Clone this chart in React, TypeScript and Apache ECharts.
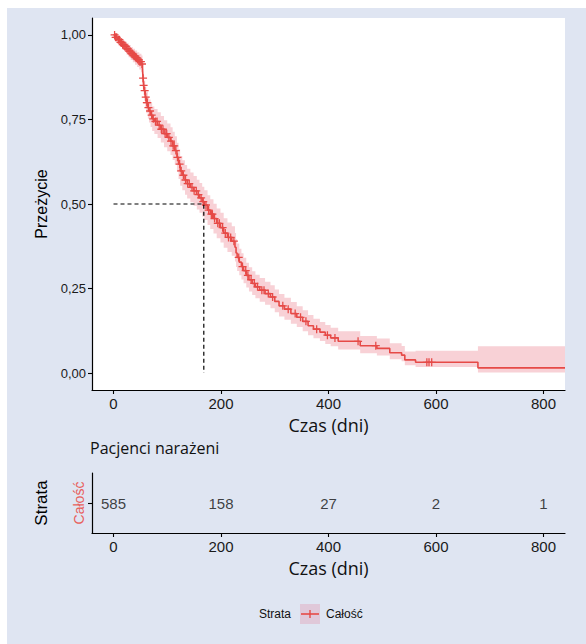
import React, { useEffect, useRef } from "react";
import * as echarts from "echarts";

// Kaplan–Meier estimate: step times (days) and survival after each step
const timeDays = [
  0, 4, 8, 12, 16, 20, 24, 28, 32, 36, 40, 44, 48, 52, 54, 55, 56, 57, 59, 61,
  64, 66, 69, 72, 76, 82, 88, 94, 100, 106, 110, 114, 118, 121, 124, 128, 133,
  137, 143, 149, 155, 160, 165, 169, 175, 180, 186, 192, 199, 205, 212, 220,
  226, 228, 230, 234, 238, 242, 247, 252, 258, 264, 272, 282, 292, 300, 308,
  318, 330, 341, 352, 362, 372, 384, 394, 404, 418, 459, 490, 514, 536, 542,
  562, 678, 840,
];
const survival = [
  1.0, 0.993, 0.986, 0.978, 0.971, 0.966, 0.959, 0.952, 0.945, 0.939, 0.933,
  0.927, 0.921, 0.914, 0.895, 0.872, 0.851, 0.835, 0.816, 0.8, 0.785, 0.775,
  0.763, 0.752, 0.744, 0.733, 0.721, 0.708, 0.697, 0.686, 0.672, 0.658, 0.638,
  0.618, 0.598, 0.585, 0.571, 0.56, 0.549, 0.539, 0.528, 0.518, 0.507, 0.497,
  0.482, 0.47, 0.457, 0.443, 0.43, 0.414, 0.401, 0.39, 0.372, 0.355, 0.342,
  0.328, 0.315, 0.303, 0.289, 0.276, 0.265, 0.255, 0.245, 0.235, 0.225, 0.212,
  0.199, 0.189, 0.176, 0.165, 0.153, 0.14, 0.13, 0.121, 0.112, 0.104, 0.094,
  0.081, 0.073, 0.06, 0.053, 0.039, 0.032, 0.0155, 0.0155,
];
// 95% confidence limits for each step
const lowerCI = [
  1.0, 0.986, 0.976, 0.966, 0.957, 0.951, 0.942, 0.934, 0.926, 0.919, 0.912,
  0.905, 0.898, 0.89, 0.869, 0.845, 0.822, 0.805, 0.785, 0.768, 0.752, 0.741,
  0.728, 0.716, 0.707, 0.695, 0.682, 0.668, 0.656, 0.645, 0.63, 0.616, 0.595,
  0.574, 0.554, 0.541, 0.527, 0.516, 0.505, 0.495, 0.484, 0.474, 0.463, 0.453,
  0.438, 0.426, 0.413, 0.399, 0.386, 0.371, 0.358, 0.347, 0.33, 0.314, 0.302,
  0.289, 0.277, 0.266, 0.253, 0.241, 0.231, 0.221, 0.211, 0.202, 0.192, 0.18,
  0.167, 0.158, 0.146, 0.136, 0.124, 0.112, 0.103, 0.095, 0.086, 0.079, 0.07,
  0.059, 0.052, 0.041, 0.035, 0.023, 0.018, 0.002, 0.002,
];
const upperCI = [
  1.0, 1.0, 0.996, 0.99, 0.985, 0.981, 0.976, 0.97, 0.964, 0.959, 0.954, 0.949,
  0.944, 0.939, 0.921, 0.9, 0.88, 0.865, 0.847, 0.832, 0.818, 0.809, 0.798,
  0.788, 0.781, 0.771, 0.76, 0.748, 0.738, 0.727, 0.714, 0.7, 0.681, 0.662,
  0.642, 0.629, 0.615, 0.604, 0.593, 0.583, 0.572, 0.562, 0.551, 0.541, 0.526,
  0.514, 0.501, 0.487, 0.474, 0.458, 0.445, 0.434, 0.414, 0.396, 0.383, 0.368,
  0.354, 0.341, 0.326, 0.313, 0.301, 0.291, 0.281, 0.27, 0.26, 0.247, 0.234,
  0.223, 0.21, 0.198, 0.186, 0.172, 0.161, 0.151, 0.142, 0.134, 0.124, 0.11,
  0.102, 0.088, 0.08, 0.064, 0.066, 0.079, 0.079,
];
// Censored observations (days)
const censorDays = [
  2, 4, 6, 9, 11, 13, 15, 17, 19, 21, 23, 25, 27, 29, 31, 33, 35, 37, 39, 41,
  43, 45, 47, 49, 51, 53, 55, 56, 58, 60, 62, 63, 65, 68, 71, 74, 78, 81, 85,
  89, 92, 96, 99, 103, 107, 111, 113, 116, 119, 123, 126, 130, 134, 138, 141,
  146, 150, 154, 158, 163, 167, 172, 177, 182, 184, 188, 194, 197, 203, 208,
  214, 218, 224, 233, 240, 246, 250, 256, 262, 268, 276, 280, 288, 296, 315,
  325, 338, 348, 358, 378, 398, 412, 455, 488, 583, 587, 592,
];
const medianDays = 168;

// Numbers at risk
const strata = ["Całość"];
const riskTimes = [0, 200, 400, 600, 800];
const riskCounts = [585, 158, 27, 2, 1];

const xTicks = [0, 200, 400, 600, 800];
const yTicks = [0, 0.25, 0.5, 0.75, 1];

const RED = "#e64a47";
const BAND = "#f8d1d6";
const SANS = "'Liberation Sans', Arial, sans-serif";
const HUMAN = "'Open Sans', 'Noto Sans', sans-serif";

const PLUS =
  "path://M-0.16,-1H0.16V-0.16H1V0.16H0.16V1H-0.16V0.16H-1V-0.16H-0.16Z";

function survAt(t: number): number {
  let s = survival[0];
  for (let i = 0; i < timeDays.length; i++) {
    if (timeDays[i] <= t) s = survival[i];
    else break;
  }
  return s;
}

export default function App() {
  const ref = useRef<HTMLDivElement>(null);

  useEffect(() => {
    if (!ref.current) return;
    const chart = echarts.init(ref.current, null, { renderer: "svg" });

    const axisLine = {
      show: true,
      onZero: false,
      lineStyle: { color: "#000", width: 1.2 },
    };
    const xAxisBase = (gridIndex: number) => ({
      type: "value",
      gridIndex,
      min: -40,
      max: 840,
      axisLine,
      axisTick: {
        show: true,
        customValues: xTicks,
        length: 4,
        lineStyle: { color: "#000", width: 1.1 },
      },
      axisLabel: {
        customValues: xTicks,
        fontSize: 15,
        color: "#1a1a1a",
        fontFamily: SANS,
        margin: 6,
      },
      splitLine: { show: false },
      name: "Czas (dni)",
      nameLocation: "middle",
      nameGap: 26,
      nameTextStyle: { fontSize: 18, fontFamily: HUMAN, color: "#111" },
    });

    chart.setOption({
      animation: false,
      backgroundColor: "transparent",
      title: {
        text: "Pacjenci narażeni",
        left: 90,
        top: 440,
        padding: 0,
        textStyle: {
          fontSize: 16,
          fontWeight: "normal",
          fontFamily: HUMAN,
          color: "#111",
        },
      },
      grid: [
        {
          left: 92,
          top: 18,
          width: 473,
          height: 372,
          show: true,
          backgroundColor: "#fff",
          borderWidth: 0,
        },
        { left: 92, top: 473, width: 473, height: 60, show: false },
      ],
      xAxis: [xAxisBase(0), xAxisBase(1)],
      yAxis: [
        {
          type: "value",
          gridIndex: 0,
          min: -0.05,
          max: 1.05,
          axisLine,
          axisTick: {
            show: true,
            customValues: yTicks,
            length: 4,
            lineStyle: { color: "#000", width: 1.1 },
          },
          axisLabel: {
            customValues: yTicks,
            formatter: (v: number) => v.toFixed(2).replace(".", ","),
            fontSize: 13,
            color: "#1a1a1a",
            fontFamily: SANS,
            margin: 6,
          },
          splitLine: { show: false },
          name: "Przeżycie",
          nameLocation: "middle",
          nameGap: 41,
          nameTextStyle: { fontSize: 16, fontFamily: SANS, color: "#000" },
        },
        {
          type: "category",
          gridIndex: 1,
          data: strata,
          axisLine,
          axisTick: {
            show: true,
            alignWithLabel: true,
            length: 4,
            lineStyle: { color: "#000", width: 1.1 },
          },
          axisLabel: {
            rotate: 90,
            fontSize: 14,
            color: "#e8605c",
            fontFamily: SANS,
            margin: 6,
          },
          name: "Strata",
          nameLocation: "middle",
          nameGap: 42,
          nameTextStyle: { fontSize: 17, fontFamily: SANS, color: "#000" },
        },
      ],
      series: [
        {
          type: "custom",
          xAxisIndex: 0,
          yAxisIndex: 0,
          clip: true,
          silent: true,
          data: [[0, 0]],
          renderItem: (params: any, api: any) => {
            if (params.dataIndex !== 0) return null;
            const pts: number[][] = [];
            const n = timeDays.length;
            for (let i = 0; i < n; i++) {
              const next = i + 1 < n ? timeDays[i + 1] : timeDays[i];
              pts.push(api.coord([timeDays[i], upperCI[i]]));
              pts.push(api.coord([next, upperCI[i]]));
            }
            for (let i = n - 1; i >= 0; i--) {
              const next = i + 1 < n ? timeDays[i + 1] : timeDays[i];
              pts.push(api.coord([next, lowerCI[i]]));
              pts.push(api.coord([timeDays[i], lowerCI[i]]));
            }
            return {
              type: "polygon",
              shape: { points: pts },
              style: { fill: BAND, stroke: "none" },
            };
          },
        },
        {
          type: "line",
          xAxisIndex: 0,
          yAxisIndex: 0,
          step: "end",
          showSymbol: false,
          silent: true,
          data: timeDays.map((t, i) => [t, survival[i]]),
          lineStyle: { color: RED, width: 1.6 },
        },
        {
          type: "scatter",
          xAxisIndex: 0,
          yAxisIndex: 0,
          symbol: PLUS,
          symbolSize: 8,
          silent: true,
          data: censorDays.map((c) => [c, survAt(c)]),
          itemStyle: { color: RED, opacity: 1 },
        },
        {
          type: "line",
          xAxisIndex: 0,
          yAxisIndex: 0,
          showSymbol: false,
          silent: true,
          data: [
            [0, 0.5],
            [medianDays, 0.5],
            [medianDays, 0],
          ],
          lineStyle: { color: "#000", width: 1.2, type: [4, 3] },
        },
        {
          type: "scatter",
          xAxisIndex: 1,
          yAxisIndex: 1,
          symbolSize: 1,
          silent: true,
          itemStyle: { color: "rgba(0,0,0,0)" },
          data: riskTimes.map((t, i) => [t, 0, riskCounts[i]]),
          label: {
            show: true,
            position: "inside",
            formatter: (p: any) => String(p.value[2]),
            fontSize: 15,
            color: "#111",
            fontFamily: SANS,
          },
        },
      ],
      graphic: [
        {
          type: "group",
          children: [
            {
              type: "text",
              x: 259,
              y: 614,
              style: {
                text: "Strata",
                fontSize: 12,
                fontFamily: SANS,
                fill: "#111",
                verticalAlign: "middle",
              },
            },
            {
              type: "rect",
              shape: { x: 300, y: 604, width: 20, height: 20 },
              style: { fill: "#e0c8d9" },
            },
            {
              type: "line",
              shape: { x1: 301, y1: 614, x2: 319, y2: 614 },
              style: { stroke: RED, lineWidth: 1.6 },
            },
            {
              type: "line",
              shape: { x1: 310, y1: 610, x2: 310, y2: 618 },
              style: { stroke: RED, lineWidth: 1.4 },
            },
            {
              type: "text",
              x: 326,
              y: 614,
              style: {
                text: "Całość",
                fontSize: 12,
                fontFamily: SANS,
                fill: "#111",
                verticalAlign: "middle",
              },
            },
          ],
        },
      ],
    });

    return () => chart.dispose();
  }, []);

  return (
    <div
      style={{
        position: "absolute",
        left: 0,
        top: 0,
        width: 586,
        height: 644,
        background: "#fff",
        overflow: "hidden",
      }}
    >
      <div
        style={{
          position: "absolute",
          left: 7,
          top: 8,
          right: 0,
          bottom: 0,
          background: "#dfe5f2",
        }}
      />
      <div
        ref={ref}
        style={{ position: "absolute", left: 0, top: 0, width: 586, height: 644 }}
      />
    </div>
  );
}
